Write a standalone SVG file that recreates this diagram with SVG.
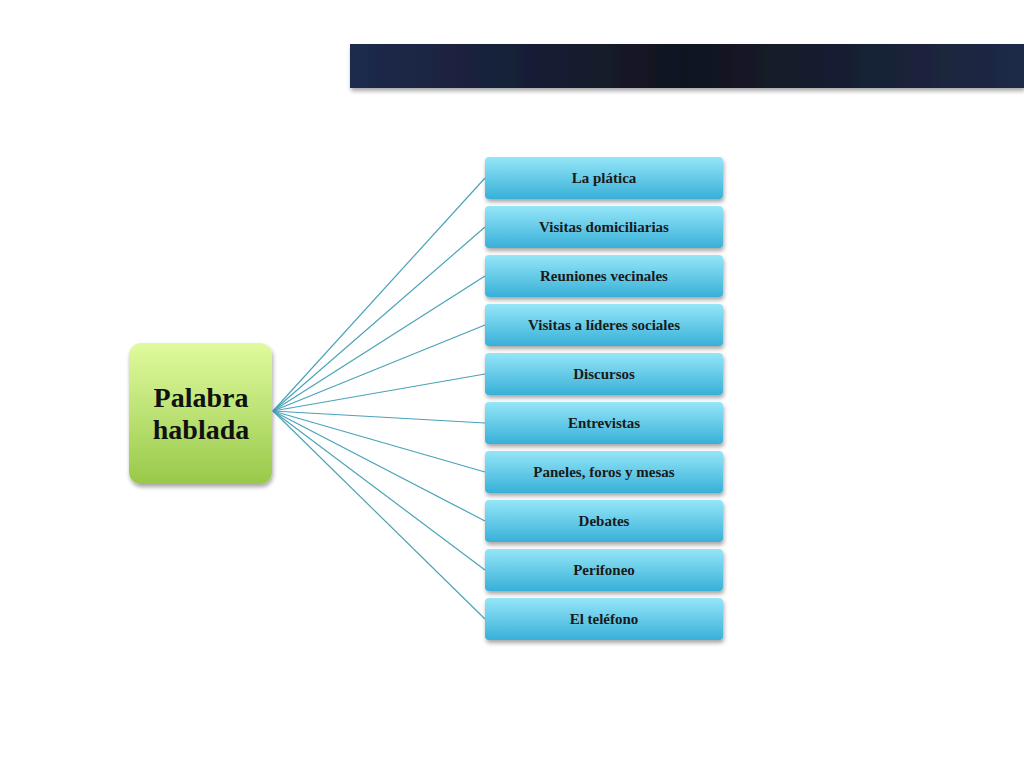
<svg xmlns="http://www.w3.org/2000/svg" width="1024" height="768" viewBox="0 0 1024 768">
<defs>
<linearGradient id="bar" x1="0" y1="0" x2="1" y2="0">
<stop offset="0" stop-color="#1f2a4d"/>
<stop offset="0.5" stop-color="#10151f"/>
<stop offset="1" stop-color="#1f2a47"/>
</linearGradient>
<linearGradient id="green" x1="0" y1="0" x2="0" y2="1">
<stop offset="0" stop-color="#e0fb9e"/>
<stop offset="1" stop-color="#98c94a"/>
</linearGradient>
<linearGradient id="blue" x1="0" y1="0" x2="0" y2="1">
<stop offset="0" stop-color="#95e6f8"/>
<stop offset="1" stop-color="#38b0d8"/>
</linearGradient>
<filter id="sh" x="-10%" y="-10%" width="130%" height="140%">
<feGaussianBlur in="SourceAlpha" stdDeviation="2"/>
<feOffset dx="1" dy="3"/>
<feComponentTransfer><feFuncA type="linear" slope="0.35"/></feComponentTransfer>
<feMerge><feMergeNode/><feMergeNode in="SourceGraphic"/></feMerge>
</filter>
</defs>
<style>
.leaf{fill:url(#blue);}
.lt{font-family:"Liberation Serif",serif;font-weight:bold;font-size:15px;fill:#1a1a1a;text-anchor:middle;}
.ln{stroke:#4aa3b8;stroke-width:1.2;fill:none;}
</style>
<rect width="1024" height="768" fill="#ffffff"/>
<rect x="350" y="44" width="674" height="44" fill="url(#bar)" filter="url(#sh)"/>
<g id="connectors">
<line class="ln" x1="273" y1="411" x2="485" y2="178"/>
<line class="ln" x1="273" y1="411" x2="485" y2="227"/>
<line class="ln" x1="273" y1="411" x2="485" y2="276"/>
<line class="ln" x1="273" y1="411" x2="485" y2="325"/>
<line class="ln" x1="273" y1="411" x2="485" y2="374"/>
<line class="ln" x1="273" y1="411" x2="485" y2="423"/>
<line class="ln" x1="273" y1="411" x2="485" y2="472"/>
<line class="ln" x1="273" y1="411" x2="485" y2="521"/>
<line class="ln" x1="273" y1="411" x2="485" y2="570"/>
<line class="ln" x1="273" y1="411" x2="485" y2="619"/>
</g>
<g id="root">
<rect x="129" y="343" width="143" height="141" rx="12" fill="url(#green)" filter="url(#sh)"/>
<text x="201" y="407" font-family="Liberation Serif,serif" font-weight="bold" font-size="28" fill="#111" text-anchor="middle">Palabra</text>
<text x="201" y="439" font-family="Liberation Serif,serif" font-weight="bold" font-size="28" fill="#111" text-anchor="middle">hablada</text>
</g>
<g id="n1"><rect class="leaf" x="485" y="157" width="238" height="42" rx="4" filter="url(#sh)"/><text class="lt" x="604" y="183">La plática</text></g>
<g id="n2"><rect class="leaf" x="485" y="206" width="238" height="42" rx="4" filter="url(#sh)"/><text class="lt" x="604" y="232">Visitas domiciliarias</text></g>
<g id="n3"><rect class="leaf" x="485" y="255" width="238" height="42" rx="4" filter="url(#sh)"/><text class="lt" x="604" y="281">Reuniones vecinales</text></g>
<g id="n4"><rect class="leaf" x="485" y="304" width="238" height="42" rx="4" filter="url(#sh)"/><text class="lt" x="604" y="330">Visitas a líderes sociales</text></g>
<g id="n5"><rect class="leaf" x="485" y="353" width="238" height="42" rx="4" filter="url(#sh)"/><text class="lt" x="604" y="379">Discursos</text></g>
<g id="n6"><rect class="leaf" x="485" y="402" width="238" height="42" rx="4" filter="url(#sh)"/><text class="lt" x="604" y="428">Entrevistas</text></g>
<g id="n7"><rect class="leaf" x="485" y="451" width="238" height="42" rx="4" filter="url(#sh)"/><text class="lt" x="604" y="477">Paneles, foros y mesas</text></g>
<g id="n8"><rect class="leaf" x="485" y="500" width="238" height="42" rx="4" filter="url(#sh)"/><text class="lt" x="604" y="526">Debates</text></g>
<g id="n9"><rect class="leaf" x="485" y="549" width="238" height="42" rx="4" filter="url(#sh)"/><text class="lt" x="604" y="575">Perifoneo</text></g>
<g id="n10"><rect class="leaf" x="485" y="598" width="238" height="42" rx="4" filter="url(#sh)"/><text class="lt" x="604" y="624">El teléfono</text></g>
</svg>
